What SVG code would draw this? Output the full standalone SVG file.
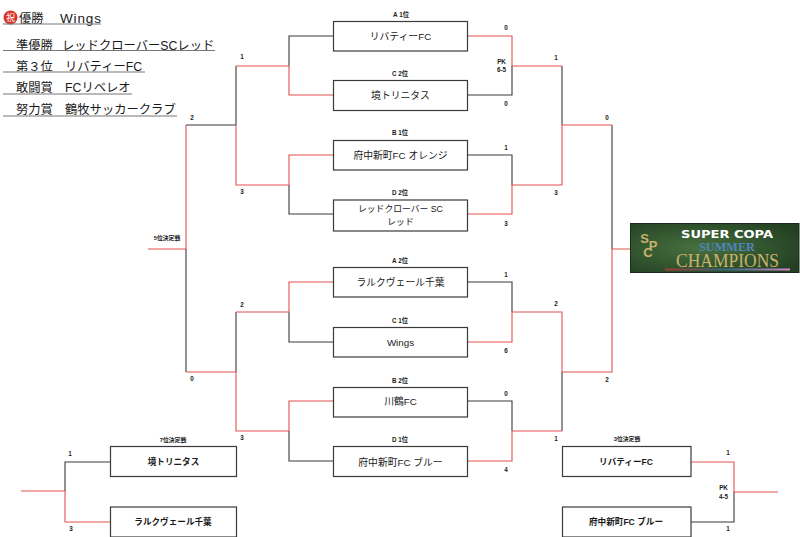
<svg xmlns="http://www.w3.org/2000/svg" width="800" height="537" viewBox="0 0 800 537">
<style>
text{font-family:"Liberation Sans","Noto Sans CJK JP",sans-serif;fill:#1a1a1a}
.box{fill:#fff;stroke:#3a3a3a;stroke-width:1.2}
.n{font-size:9.800px;text-anchor:middle}
.nb{font-size:8.600px;text-anchor:middle;font-weight:700}
.s{font-size:6.300px;text-anchor:middle;font-weight:700}
.t{font-size:5.800px;text-anchor:middle;font-weight:700}
.h{font-size:12.300px}
.u{stroke:#777;stroke-width:1.2;fill:none}
.d{stroke:#3a3a3a;stroke-width:1.1;fill:none}
.r{stroke:#e2524e;stroke-width:1.1;fill:none}
.l{fill:#c9b26d;font-family:"Liberation Sans",sans-serif;font-weight:700;font-size:13px;text-anchor:middle}
</style>
<defs>
<radialGradient id="bg" cx="40%" cy="50%" r="70%"><stop offset="0" stop-color="#47703f"/><stop offset="1" stop-color="#223f22"/></radialGradient>
<linearGradient id="bar"><stop offset="0" stop-color="#a8382c"/><stop offset="0.5" stop-color="#2f6a86"/><stop offset="1" stop-color="#d884c8"/></linearGradient>
</defs>
<rect width="800" height="537" fill="#fff"/>
<g id="awards">
<circle cx="10.500" cy="17.500" r="7" fill="#d8362a"/>
<text x="10.500" y="21" font-size="9" text-anchor="middle" style="fill:#fff">祝</text>
<text class="h" x="19" y="23">優勝</text><text class="h" style="font-size:13.500px" x="60" y="23" textLength="41">Wings</text>
<line class="u" x1="3" y1="24" x2="101" y2="24"/>
<text class="h" x="16" y="50">準優勝</text><text class="h" x="62" y="50">レッドクローバーSCレッド</text>
<line class="u" x1="3" y1="50.500" x2="215" y2="50.500"/>
<text class="h" x="16" y="71">第３位</text><text class="h" x="65" y="71">リバティーFC</text>
<line class="u" x1="3" y1="72" x2="145" y2="72"/>
<text class="h" x="16" y="92">敢闘賞</text><text class="h" x="65" y="92">FCリベレオ</text>
<line class="u" x1="3" y1="94" x2="132" y2="94"/>
<text class="h" x="16" y="114">努力賞</text><text class="h" x="65" y="114">鶴牧サッカークラブ</text>
<line class="u" x1="3" y1="116" x2="177" y2="116"/>
</g>
<g id="connectors">
<path class="d" d="M333 36H289V66M289 185V214H333M236 125V66M186 125H236M289 312V342H333M236 372V312M289 431V461H333M186 249V372"/>
<path class="r" d="M333 95H289V66H236M333 155H289V185H236V125M186 125V249H148M333 282H289V312H236M186 372H236V431H289V401H333"/>
<path class="d" d="M468 95H512V66M468 155H512V185M562 66V125M612 125V249M468 282H512V312M562 372V431M468 401H512V431"/>
<path class="r" d="M468 36H512V66H562M468 214H512V185H562V125H612M468 342H512V312H562V372H612V249H630M562 431H512V461H468"/>
<path class="d" d="M110 462H65V491M691 522H734V492"/>
<path class="r" d="M21 491H65V522H110M691 462H734V492H778"/>
</g>
<g id="n-a1"><rect class="box" x="333.500" y="21.500" width="134" height="29.500"/><text class="n" x="400.500" y="39.500">リバティーFC</text><text class="s" x="401" y="17">A 1位</text></g>
<g id="n-c2"><rect class="box" x="333.500" y="80.500" width="134" height="30"/><text class="n" x="400.500" y="99">境トリニタス</text><text class="s" x="400" y="76">C 2位</text></g>
<g id="n-b1"><rect class="box" x="333.500" y="140.500" width="134" height="29.500"/><text class="n" x="400.500" y="159">府中新町FC オレンジ</text><text class="s" x="400" y="135">B 1位</text></g>
<g id="n-d2"><rect class="box" x="333.500" y="200" width="134" height="31"/><text class="n" style="font-size:8.800px" x="400.500" y="212">レッドクローバー SC</text><text class="n" style="font-size:8.800px" x="400.500" y="225">レッド</text><text class="s" x="400" y="195">D 2位</text></g>
<g id="n-a2"><rect class="box" x="333.500" y="267.500" width="134" height="29.500"/><text class="n" x="400.500" y="286">ラルクヴェール千葉</text><text class="s" x="400" y="263">A 2位</text></g>
<g id="n-c1"><rect class="box" x="333.500" y="327.500" width="134" height="29.500"/><text class="n" x="400.500" y="346">Wings</text><text class="s" x="400" y="323">C 1位</text></g>
<g id="n-b2"><rect class="box" x="333.500" y="387.500" width="134" height="29.500"/><text class="n" x="400.500" y="405">川鶴FC</text><text class="s" x="400" y="383">B 2位</text></g>
<g id="n-d1"><rect class="box" x="333.500" y="446.500" width="134" height="30"/><text class="n" x="400.500" y="466">府中新町FC ブルー</text><text class="s" x="400" y="442">D 1位</text></g>
<g id="n-7a"><rect class="box" x="110.500" y="446.500" width="126" height="30"/><text class="nb" x="173.500" y="465">境トリニタス</text><text class="t" x="173" y="442">7位決定戦</text></g>
<g id="n-7b"><rect class="box" x="110.500" y="507" width="126" height="30"/><text class="nb" x="173" y="525">ラルクヴェール千葉</text></g>
<g id="n-3a"><rect class="box" x="562.500" y="446.500" width="128.500" height="30"/><text class="nb" x="626" y="465">リバティーFC</text><text class="t" x="627" y="441">3位決定戦</text></g>
<g id="n-3b"><rect class="box" x="562.500" y="507" width="128.500" height="30"/><text class="nb" x="626" y="525">府中新町FC ブルー</text></g>
<g id="labels">
<text class="s" x="192" y="120">2</text><text class="s" x="192" y="381">0</text><text class="t" x="167" y="240">5位決定戦</text>
<text class="s" x="242" y="59">1</text><text class="s" x="242" y="194">3</text><text class="s" x="242" y="307">2</text><text class="s" x="242" y="440">3</text>
<text class="s" x="506" y="30">0</text><text class="s" x="506" y="106">0</text><text class="s" x="501.500" y="64">PK</text><text class="s" x="501.500" y="72">6-5</text>
<text class="s" x="506" y="150">1</text><text class="s" x="506" y="226">3</text><text class="s" x="506" y="277">1</text><text class="s" x="506" y="353">6</text><text class="s" x="506" y="396">0</text><text class="s" x="506" y="472">4</text>
<text class="s" x="556" y="60">1</text><text class="s" x="556" y="195">3</text><text class="s" x="556" y="306">2</text><text class="s" x="556" y="441">1</text>
<text class="s" x="607" y="120">0</text><text class="s" x="607" y="382">2</text>
<text class="s" x="70" y="456">1</text><text class="s" x="71" y="531">3</text>
<text class="s" x="728" y="455">1</text><text class="s" x="728" y="531">1</text><text class="s" x="723.500" y="490">PK</text><text class="s" x="723.500" y="499">4-5</text>
</g>
<g id="logo">
<rect x="630.500" y="223.500" width="168.500" height="49" fill="url(#bg)" stroke="#1c2a1c" stroke-width="1"/>
<text x="681" y="237.500" font-size="11" font-weight="700" textLength="92" lengthAdjust="spacingAndGlyphs" style="fill:#fff;font-family:'DejaVu Sans',sans-serif">SUPER COPA</text>
<text x="699" y="250.500" font-size="12.500" font-weight="700" textLength="56" lengthAdjust="spacingAndGlyphs" style="fill:#4f86bd;font-family:'Liberation Serif',serif">SUMMER</text>
<text x="676" y="267" font-size="18" textLength="103" lengthAdjust="spacingAndGlyphs" style="fill:#c9b26d;font-family:'Liberation Serif',serif">CHAMPIONS</text>
<rect x="665" y="268.500" width="125" height="2" fill="url(#bar)"/>
<text class="l" x="644.500" y="243">S</text>
<text class="l" x="653" y="249.500">P</text>
<text class="l" x="648" y="257">C</text>
</g>
</svg>
